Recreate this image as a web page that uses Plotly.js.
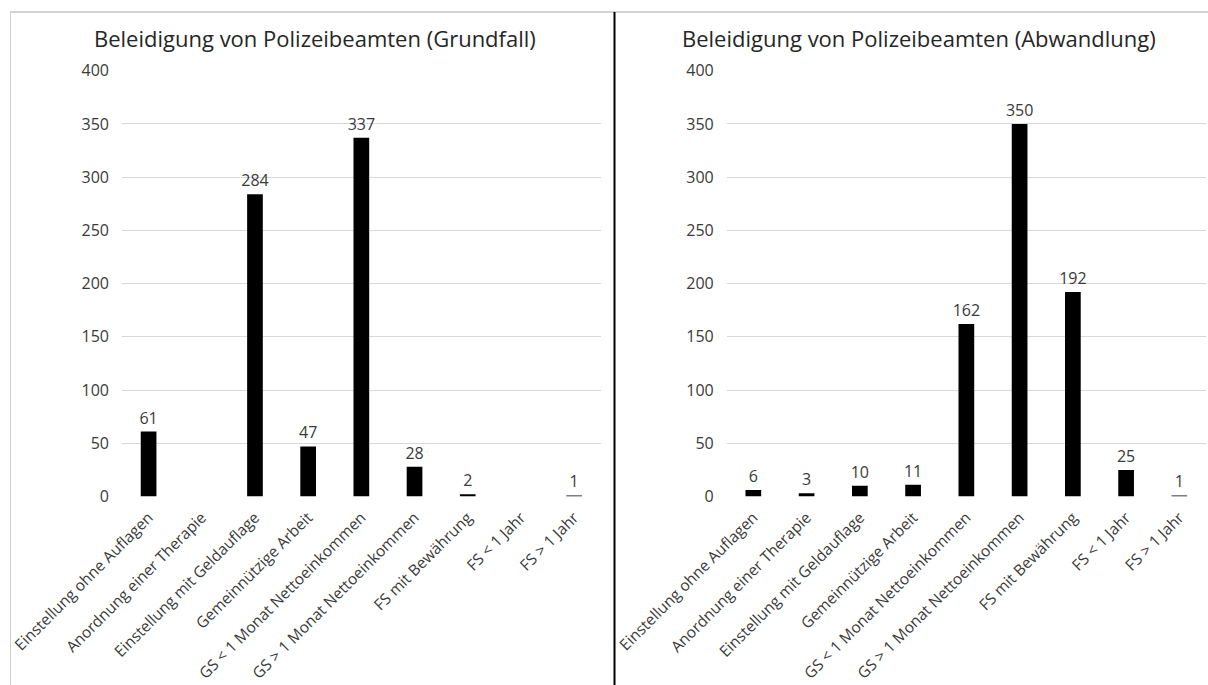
<!DOCTYPE html>
<html>
<head>
<meta charset="utf-8">
<script src="https://cdn.plot.ly/plotly-3.0.1.min.js"></script>
<style>html,body{margin:0;padding:0;background:#fff;}#chart{width:1208px;height:685px;}</style>
</head>
<body>
<div id="chart"></div>
<script>
var categories = [
  "Einstellung ohne Auflagen",
  "Anordnung einer Therapie",
  "Einstellung mit Geldauflage",
  "Gemeinnützige Arbeit",
  "GS < 1 Monat Nettoeinkommen",
  "GS > 1 Monat Nettoeinkommen",
  "FS mit Bewährung",
  "FS < 1 Jahr",
  "FS > 1 Jahr"
];
var grundfall = [61, 0, 284, 47, 337, 28, 2, 0, 1];
var abwandlung = [6, 3, 10, 11, 162, 350, 192, 25, 1];
var titleLeft = "Beleidigung von Polizeibeamten (Grundfall)";
var titleRight = "Beleidigung von Polizeibeamten (Abwandlung)";
var yTicks = [0, 50, 100, 150, 200, 250, 300, 350, 400];

var W = 1208, H = 685;
var FONT = "Open Sans, sans-serif";
var TXT = "#3a3a3a";

function labels(arr){ return arr.map(function(v){ return v > 0 ? String(v) : ""; }); }

var traces = [
  {type:"bar", x:categories, y:grundfall, xaxis:"x", yaxis:"y",
   marker:{color:"#000000"}, text:labels(grundfall), textposition:"outside", constraintext:"none",
   textfont:{family:FONT, size:16, color:TXT}, cliponaxis:false, hoverinfo:"none"},
  {type:"bar", x:categories, y:abwandlung, xaxis:"x2", yaxis:"y2",
   marker:{color:"#000000"}, text:labels(abwandlung), textposition:"outside", constraintext:"none",
   textfont:{family:FONT, size:16, color:TXT}, cliponaxis:false, hoverinfo:"none"}
];

var yDom = [(H-496.5)/H, (H-70.7)/H];
function yax(anchor){
  return {domain:yDom, range:[0,400], anchor:anchor, tickvals:yTicks,
    showgrid:true, gridcolor:"#d9d9d9", gridwidth:1, zeroline:false, showline:false,
    ticks:"", ticklabelstandoff:12, tickfont:{family:FONT, size:16, color:TXT}, fixedrange:true};
}
function xax(dom, anchor){
  return {domain:dom, anchor:anchor, tickangle:-45, showline:false, showgrid:false, zeroline:false,
    ticks:"", ticklabelstandoff:8, tickfont:{family:FONT, size:15.5, color:TXT}, automargin:false, fixedrange:true};
}

var layout = {
  width:W, height:H, margin:{l:0,r:0,t:0,b:0},
  paper_bgcolor:"#ffffff", plot_bgcolor:"#ffffff", showlegend:false,
  bargap:0.705,
  xaxis: xax([122/W, 600.7/W], "y"),
  yaxis: yax("x"),
  xaxis2: xax([726.7/W, 1206/W], "y2"),
  yaxis2: yax("x2"),
  annotations:[
    {text:titleLeft, xref:"paper", yref:"paper", x:92/W, y:1-38/H, xanchor:"left", yanchor:"middle",
     showarrow:false, font:{family:FONT, size:22, color:"#262626"}},
    {text:titleRight, xref:"paper", yref:"paper", x:680/W, y:1-38/H, xanchor:"left", yanchor:"middle",
     showarrow:false, font:{family:FONT, size:22, color:"#262626"}}
  ],
  shapes:[
    {type:"line", xref:"paper", yref:"paper", x0:10/W, x1:1, y0:1-12/H, y1:1-12/H, line:{color:"#a6a6a6", width:1}},
    {type:"line", xref:"paper", yref:"paper", x0:10.5/W, x1:10.5/W, y0:0, y1:1-12/H, line:{color:"#d0d0d0", width:1}},
    {type:"line", xref:"paper", yref:"paper", x0:614.5/W, x1:614.5/W, y0:0, y1:1-12/H, line:{color:"#000000", width:2}}
  ]
};

Plotly.newPlot("chart", traces, layout, {staticPlot:true, displayModeBar:false});
</script>
</body>
</html>
